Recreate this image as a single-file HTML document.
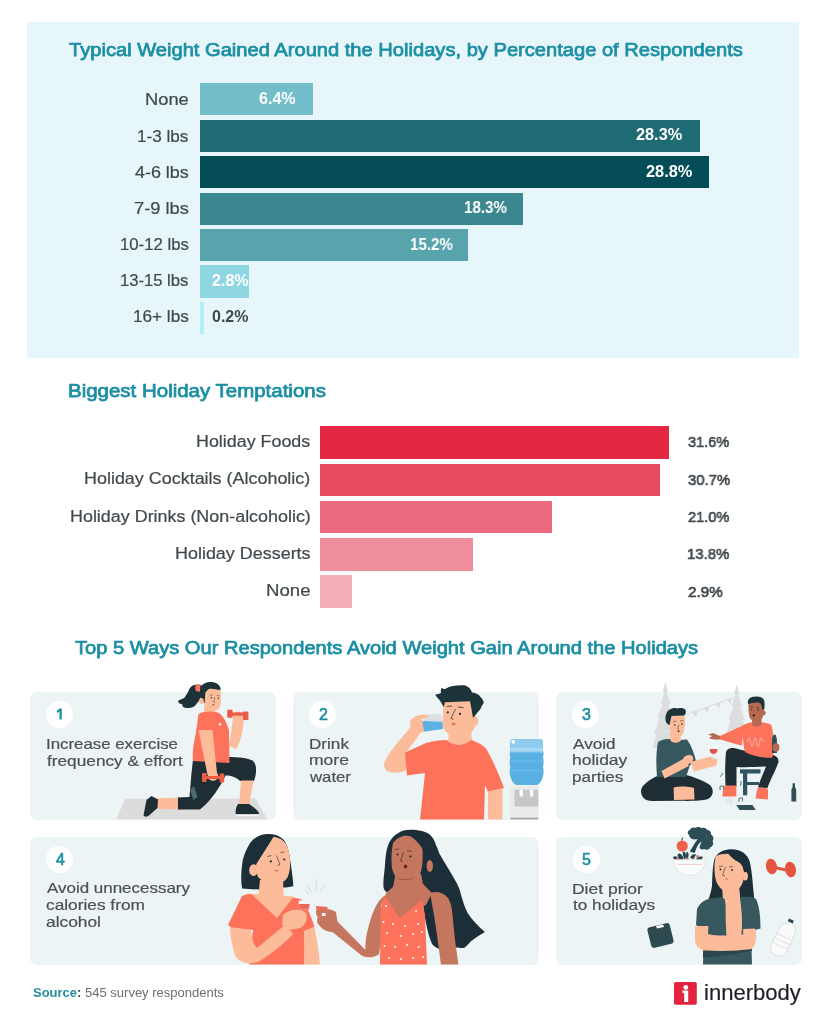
<!DOCTYPE html>
<html><head><meta charset="utf-8">
<style>
*{margin:0;padding:0;box-sizing:border-box}
html,body{width:826px;height:1017px;overflow:hidden;background:#fff}
body{position:relative;font-family:"Liberation Sans",sans-serif;color:#41484c}
.a{position:absolute;white-space:nowrap;line-height:1;will-change:transform}
.panel{position:absolute;left:27px;top:22px;width:772px;height:336px;background:#e7f6fa}
.bar{position:absolute;left:200px;height:32.4px}
.card{position:absolute;background:#edf4f6;border-radius:7px}
.circ{position:absolute;width:27px;height:27px;border-radius:50%;background:#fff}
svg{position:absolute;left:0;top:0}
</style></head><body>
<div class="panel"></div>
<div class="bar" style="top:83px;width:113px;background:#72bfcb"></div>
<div class="bar" style="top:119.5px;width:499.5px;background:#1f6b74"></div>
<div class="bar" style="top:156px;width:508.5px;background:#044d58"></div>
<div class="bar" style="top:192.5px;width:323px;background:#3b878f"></div>
<div class="bar" style="top:229px;width:268.4px;background:#57a4ad"></div>
<div class="bar" style="top:265.3px;width:49.4px;background:#8ed7e2"></div>
<div class="bar" style="top:301.7px;width:3.5px;background:#b0eef9"></div>

<div class="bar" style="left:320px;top:426.2px;width:349.3px;height:32.6px;background:#e42844"></div>
<div class="bar" style="left:320px;top:463.5px;width:339.5px;height:32.6px;background:#e84a62"></div>
<div class="bar" style="left:320px;top:500.8px;width:232px;height:32.6px;background:#ec6b7e"></div>
<div class="bar" style="left:320px;top:538.1px;width:152.5px;height:32.6px;background:#f08d9c"></div>
<div class="bar" style="left:320px;top:575.4px;width:31.6px;height:32.6px;background:#f4aeb8"></div>

<div class="card" style="left:29.5px;top:692px;width:246px;height:127.5px"></div>
<div class="card" style="left:292.5px;top:692px;width:246px;height:127.5px"></div>
<div class="card" style="left:555.5px;top:692px;width:246px;height:127.5px"></div>
<div class="card" style="left:29.5px;top:836.5px;width:509px;height:128px"></div>
<div class="card" style="left:555.5px;top:836.5px;width:246px;height:128px"></div>

<svg width="826" height="1017" viewBox="0 0 826 1017">
<defs>
<clipPath id="r1"><rect x="0" y="600" width="826" height="219.5"/></clipPath>
<clipPath id="r2"><rect x="0" y="820" width="826" height="144.5"/></clipPath>
</defs>
<g clip-path="url(#r1)">
<!-- ===== CARD 1 : lunge woman ===== -->
<path d="M125.4 798.5 L256 798.5 L267.3 819.5 L116 819.5 Z" fill="#dcdcdc"/>
<!-- ponytail -->
<path d="M201 685 C198.5 684 195.5 684.3 193.2 685.3 C191 686.5 189.8 688 188.9 690.1 C187.5 693 186 696 184.1 698 C182 699.3 179.5 699.5 178 701 C178.3 703.5 180.5 704 182.3 704.3 C182 706 183 707.6 185 707.8 C187 708.2 189 707.9 190.7 707.7 C193.5 707 195.5 705.5 196.8 703.4 C198.5 701.5 199.8 700 200.6 698 C202 694 202.5 689 201 685 Z" fill="#1c3439"/>
<!-- neck -->
<path d="M204.5 703 L212 709 L213 714 L204 714 Z" fill="#fcbc99"/>
<!-- face -->
<path d="M205 690 C208 688.5 214 688 220.4 689 C221 694 221 700 220.5 705 C219.5 709 216 711.9 211.3 711.9 C207.5 711.5 205 708 204.5 703 C204.2 698 204.4 693 205 690 Z" fill="#fcbc99"/>
<!-- head hair -->
<path d="M201 686 C203 683.5 206.5 682 210.1 681.9 C214.5 681.8 218.5 683.5 219.8 686.5 C220.6 688 220.7 689.2 220.4 690.1 C217 689.5 212.5 688.5 208.9 688.9 C207 690 206 691.5 205.3 693.1 C205 696.5 204.8 700 204.7 703.4 C203 701 201.5 699 200.6 698 C200.5 693.5 200.3 689.5 201 686 Z" fill="#1c3439"/>
<path d="M195.2 686 C196.5 684.5 199 684.3 200.4 685 L200 691.5 C198.5 692 196.5 691.5 195.5 690.5 Z" fill="#fd725a"/>
<ellipse cx="201.4" cy="701" rx="2.3" ry="3" fill="#fcbc99"/>
<circle cx="211.3" cy="697.7" r="0.75" fill="#1c3439"/><circle cx="218.3" cy="698.3" r="0.75" fill="#1c3439"/>
<path d="M209.8 695.3 L212.5 694.9 M216.8 695.5 L219.5 695.9" stroke="#1c3439" stroke-width="0.5"/>
<path d="M214.8 697 L213.7 702 L215.3 702.5" stroke="#1c3439" stroke-width="0.45" fill="none"/>
<ellipse cx="213.3" cy="704.8" rx="0.9" ry="0.6" fill="#5a2a1c"/>
<!-- raised arm -->
<path d="M229 746 C231 736 232 726 233 717 L243.5 715 C244.5 726 241.5 739 236.5 749 Z" fill="#fcbc99"/>
<ellipse cx="238" cy="716" rx="5.5" ry="4.5" fill="#fcbc99"/>
<!-- top dumbbell -->
<rect x="231" y="712.5" width="13" height="3.2" fill="#ee5c47"/>
<rect x="227.2" y="709.8" width="5.4" height="8" rx="1" fill="#ee5c47"/>
<rect x="243" y="711.6" width="5.4" height="8.4" rx="1" fill="#ee5c47"/>
<!-- pants -->
<path d="M193 760 L228 757 C238 757 248 758 252.5 760.5 C257 764 257 773 254 781 L240 781 C237 777.5 231 775.5 225.5 775.5 C220.5 786 212 800 200 809.5 L177.5 809.5 L177.5 797.5 L189.5 797 C190.5 787 191 775 193 760 Z" fill="#1e2e34"/>
<path d="M190 790 L194 786 L197.5 797 L193.5 800 Z" fill="#4a6a72"/>
<!-- shirt -->
<path d="M198.5 714 C203 711.5 210 711 216 712 C221.5 713 226 720 229 730 L229.5 763 L193 761 C192 752 194 742 196 732 Z" fill="#fd725a"/>
<circle cx="220" cy="724.3" r="1.2" fill="#fff"/>
<!-- down arm -->
<path d="M198.6 730 L212.5 730 L217 773 L207.5 775 Z" fill="#fcbc99"/>
<ellipse cx="213" cy="776" rx="5.2" ry="4.8" fill="#fcbc99"/>
<!-- bottom dumbbell -->
<rect x="205" y="776" width="16" height="3" fill="#ee5c47"/>
<rect x="202" y="773" width="4.6" height="9" rx="1" fill="#ee5c47"/>
<rect x="219.6" y="773.5" width="4.6" height="9" rx="1" fill="#ee5c47"/>
<!-- front shin & shoe -->
<path d="M241 780.5 L253.5 780.5 L249 806 L239 806 Z" fill="#fcbc99"/>
<path d="M238 804 L249 804 C253 807 258 810 259 813 L259 815 L236 815 C235 811 236 807 238 804 Z" fill="#1e2e34"/>
<rect x="236" y="814.2" width="23" height="1.5" fill="#fff"/>
<!-- back shin & shoe -->
<path d="M178 797.6 L178 809.5 L157 808.6 L156 798.6 Z" fill="#fcbc99"/>
<path d="M151.5 796 L158 799.5 L157.5 808 L149.5 815 C147.5 817 144.5 817.5 143.5 815 L146.5 800 Z" fill="#1e2e34"/>

<!-- ===== CARD 2 : drinking man ===== -->
<!-- arm -->
<path d="M384 766 C384 760 390 752 398 742 C404 735 410 728 414 722 L424.5 727 C419 735 412 745 406.5 752 L406.5 770 C400 773.5 390 773.5 386 770.5 Z" fill="#fcbc99"/>
<!-- neck -->
<path d="M449 730 L471 728 L472 744 L448 744 Z" fill="#fcbc99"/>
<!-- shirt -->
<path d="M405 752.6 L426 743 C433 741 440 740 447 740 C451 746 466 746 471 740 C477 742 483 745 486 748.5 C493 760 499 775 504 788 L488 792 L485 785 L484 820 L420 820 L425 773 L407 775.5 Z" fill="#fd725a"/>
<path d="M488 791.5 L502.5 788.5 L502.5 820 L488 820 Z" fill="#fcbc99"/>
<!-- face -->
<path d="M444 702 C452 699 463 699 470 700 C473 707 475 714 476 720 C476 727 473 732 468 734.5 C462 736.5 455 737 451.5 736 C447 733 443.5 730 443 726 C442.5 718 443 710 444 702 Z" fill="#fcbc99"/>
<ellipse cx="475" cy="721" rx="3.3" ry="4.5" fill="#fcbc99"/>
<!-- hair -->
<path d="M435.2 694.5 C437.5 694 439.5 694 441 693 C440.5 690.5 441 688.5 442 687.7 C443 689 444 689.5 446 688.5 C450 686 457 685 464 685.3 C468 686 471 689 472 692.6 C476 693 479 694.5 480.5 697 C482.5 699 484 701.5 483.6 703.2 L481.7 706.1 C481 709 479 711 477.8 712 C476 714.5 474.5 716.5 473 717.8 C472 712 471 706 470 701.3 C462 701.5 452 702 444.9 702.3 L443.9 707.1 C442 704 440.5 701 439 699.4 C437.5 698 436 696 435.2 694.5 Z" fill="#1c3439"/>
<circle cx="447.8" cy="712.4" r="1.1" fill="#1c3439"/><circle cx="459.9" cy="713.9" r="1.1" fill="#1c3439"/>
<path d="M446.8 706.5 L452.2 706 M458 707 L463.5 707.6" stroke="#1c3439" stroke-width="0.8"/>
<path d="M455.5 709 L451 718.5 L453.5 719.5" stroke="#1c3439" stroke-width="0.7" fill="none"/>
<ellipse cx="453.6" cy="724" rx="2" ry="1.5" fill="#e8735e"/>
<!-- glass & hand -->
<path d="M418 726 C418 723 421 721.5 424 721 L442.5 721.5 L443 729 L425 731.5 C421 731.8 418 729.5 418 726 Z" fill="#5db0e2"/>
<path d="M424 721 L426.5 714.5 L441 713.8 L442.5 721.5 Z" fill="#dcdfe1"/>
<path d="M410 722 C412 717 418 715 423 714.5 C427 714.5 429 716 428 717.5 L422 719 L424 731 C420 733.5 415 734.5 411 733 Z" fill="#fcbc99"/>
<!-- water cooler -->
<rect x="510.3" y="786" width="28" height="33.5" rx="1.5" fill="#e9eaea"/>
<rect x="514.5" y="789.8" width="23.8" height="16.8" rx="1.2" fill="#c6c7c8"/>
<rect x="519.6" y="789.8" width="3.3" height="6.6" fill="#fff"/>
<rect x="529.9" y="789.8" width="3.3" height="6.6" fill="#fff"/>
<rect x="510.3" y="817.8" width="28" height="1.9" fill="#9c9d9e"/>
<path d="M510.3 742 C510.3 739.8 511.8 738.9 514 738.9 L539.5 738.9 C541.8 738.9 543 740 543 742 L543 750 C543.8 752 543.8 755 543 757 C543.8 759 543.8 765 543 767 C543.8 769 543.8 774 543 776 C542 781 539 785.1 535.5 785.1 L518 785.1 C514 785.1 511.3 781 510.3 776 C509.5 774 509.5 769 510.3 767 C509.5 765 509.5 759 510.3 757 C509.5 755 509.5 752 510.3 750 Z" fill="#58b0e3"/>
<path d="M510.3 742 C510.3 739.8 511.8 738.9 514 738.9 L539.5 738.9 C541.8 738.9 543 740 543 742 L543 752.4 L510.3 752.4 Z" fill="#8ecbee"/>
<rect x="510.3" y="747.8" width="32.7" height="3.5" fill="#a6d6f2"/>
<rect x="510.3" y="760.5" width="32.7" height="1.3" fill="#6dbbe8"/>
<rect x="510.3" y="770" width="32.7" height="1.3" fill="#6dbbe8"/>
<circle cx="513.2" cy="741.8" r="1.9" fill="#fff"/>
<!-- ===== CARD 3 : party ===== -->
<path d="M665.3 682 L668 692 L666.5 692.5 L670.5 704 L668.5 704.5 L673.5 718 L671.5 718.5 L677 734 L674.5 734.5 L679 748 L652 748 L656.5 734.5 L654 734 L659.5 718.5 L657.5 718 L662.5 704.5 L660.5 704 L664.5 692.5 L662.8 692 Z" fill="#dcdddf"/>
<path d="M736.8 684.5 L739.5 694 L738 694.5 L742 706 L740 706.5 L745 720 L743 720.5 L748.5 738 L725 738 L730.5 720.5 L728.5 720 L733.5 706.5 L731.5 706 L735.5 694.5 L734 694 Z" fill="#dcdddf"/>
<path d="M686.5 714.5 C700 710 718 703 737 696" stroke="#d4d6d7" stroke-width="0.8" fill="none"/>
<path d="M692.5 712.5 L697.5 710.8 L696 717 Z M704 708.5 L709 706.6 L707.5 713 Z M715.5 704 L720.5 702.2 L719 708.5 Z M727 699.7 L732 697.9 L730.5 704 Z" fill="#dadbdc"/>
<!-- left man legs -->
<path d="M657 776 L686 775 C694 777 704 781 710 785 C714 789 714 796 708 799 C702 801 690 801 680 800.8 L652 801 C645 801 641 797 641 791 C641.5 785 648 781 657 776 Z" fill="#1e2e34"/>
<path d="M673.6 787.5 C680 786 688 786.5 694 788 L694.5 799.5 L674 800 Z" fill="#fcbc99"/>
<!-- left man shirt -->
<path d="M658 742 C662 739.5 667 738.5 671 739.5 C674 742.5 678 742.5 681 740 C684 739.5 686 739.3 687 739.6 C691 745 694 753 696 761 L690 765 L686 777 L657 777 C656 765 656 752 658 742 Z" fill="#37585e"/>
<path d="M670 733 L680.5 733 L681 740.5 C678 743.5 673 743.5 670.5 740.5 Z" fill="#fcbc99"/>
<!-- arms -->
<path d="M661.5 771 L664.5 778.5 L689 766 L685 758 Z" fill="#fcbc99"/>
<ellipse cx="688" cy="759.5" rx="5.5" ry="4.2" transform="rotate(-30 688 759.5)" fill="#fcbc99"/>
<path d="M690 762 L710 756.5 L717.5 759.5 L716.5 765.5 L694 771.5 Z" fill="#fcbc99"/>
<!-- face & hair -->
<path d="M669 716 L684.5 715 C685.5 722 685 730 682.5 735 C679.5 737.5 675 737.5 672 735.5 C670 732 669 726 669 716 Z" fill="#fcbc99"/>
<path d="M665.5 720 C665 714 667.5 710 671 709 C673 707.5 676 707.8 678 708.5 C680.5 707.5 684 708 685.5 710 C686.5 712.5 685.5 714.5 684 715.5 L671.5 716 L669.5 725 C667 724 665.8 722.5 665.5 720 Z" fill="#1c3439"/>
<circle cx="666.5" cy="731.2" r="1.1" fill="none" stroke="#f2f2f2" stroke-width="0.7"/>
<circle cx="674.8" cy="725" r="0.8" fill="#1c3439"/><circle cx="682" cy="724" r="0.8" fill="#1c3439"/>
<path d="M673 721.5 L676.5 721.2 M680 720.8 L683.5 720.8" stroke="#1c3439" stroke-width="0.5"/>
<path d="M679 724.5 L677.5 728.5 L679.2 729" stroke="#1c3439" stroke-width="0.45" fill="none"/>
<ellipse cx="678.6" cy="731.2" rx="0.9" ry="1.1" fill="#5a2a1c"/>
<!-- wine glass -->
<path d="M709.3 745.3 L717.8 745.3 L717.3 751 C716.5 755 710.5 755 709.8 751 Z" fill="#f6f6f6"/>
<path d="M709.6 749 L717.5 749 L717.3 751 C716.5 755 710.5 755 709.8 751 Z" fill="#e0574b"/>
<path d="M713.5 754 L713.5 760" stroke="#e4e4e4" stroke-width="0.9"/>
<!-- right man: stool -->
<rect x="740" y="769.3" width="20.5" height="4.2" fill="#2f5660"/>
<rect x="743" y="773" width="4.2" height="22.3" fill="#2f5660"/>
<rect x="743" y="782" width="16" height="3" fill="#2f5660"/>
<!-- pants -->
<path d="M726 752 C727 748.5 731 747.5 735 748.3 C745 751 758 754 770 754.5 C776 755 779 758 778.5 762 C776 770 770 780 767.5 788 L758 787.5 C760 780 764 772 766 766.5 C758 767 745 767.5 736.5 767 L736.5 786.5 L725.5 786.5 C725 775 725 762 726 752 Z" fill="#1e2e34"/>
<path d="M725 785.5 L736.3 785.5 L736.3 796.5 L722.4 796.5 C722.4 792 723.5 788 725 785.5 Z" fill="#fd725a"/>
<path d="M758 787.5 L767.8 788.5 C768.2 792 768 796 767.8 799.6 L755.7 798.5 C756 794 757 790.5 758 787.5 Z" fill="#fd725a"/>
<!-- sweater -->
<path d="M743 725.1 C748 722.5 753 722 757 722 C762 722 768 723 771.4 725.1 C773.5 733 774 745 773.8 753 L772 757.8 C762 758 752 756 745 752 C743 745 742.5 735 743 725.1 Z" fill="#fd725a"/>
<path d="M744 725 L720 736 L720 739.6 L741.8 745.7 Z" fill="#fd725a"/>
<path d="M747.5 742 C748.5 736 749.5 736 750.5 742 C751.5 748 752.5 748 753.5 742 C754.5 736 755.5 736 756.5 742 C757.5 748 758.5 748 759.5 742 C760.5 736 761.5 736 762.5 742" stroke="#fbc2b4" stroke-width="0.8" fill="none"/>
<path d="M720 736 L713 733 L708 734.5 L712 736 L709 738.5 L714 739.5 L720 739.6 Z" fill="#b5694f"/>
<!-- head -->
<path d="M752 718 L761.5 718 L761.5 725 C758 727 755 727 752 725 Z" fill="#b5694f"/>
<path d="M748.4 704 C749 700.5 753 699 757.5 699.5 C761.5 700 764 703 764 708 C764 714 763 719 759.5 721.3 C755.5 722.5 751 721 749.5 717 C748.5 713 748.2 708 748.4 704 Z" fill="#b5694f"/>
<circle cx="763.6" cy="713" r="2.2" fill="#b5694f"/>
<path d="M747.8 703.5 C747.5 699 750.5 696.5 754.5 696.7 C757.5 696 761 696.5 763 698.5 C764.8 700.5 765 704 764.2 709.4 L762.5 710 C762 706 761 703.5 759 702.5 C756 702.5 751.5 702.5 748.5 704 Z" fill="#1c3439"/>
<ellipse cx="753.8" cy="715.3" rx="1.1" ry="1.3" fill="#4a1f14"/>
<circle cx="751.5" cy="709.4" r="0.7" fill="#1c3439"/><circle cx="758.1" cy="710" r="0.7" fill="#1c3439"/>
<path d="M750 707 L753 706.8 M756.5 707.3 L759.5 707.8" stroke="#1c3439" stroke-width="0.5"/>
<!-- bottle in hand -->
<path d="M773.5 734.8 L775.7 734.8 L776.9 739 L776.9 753 L772 753 L772 739 Z" fill="#2f4f55"/>
<ellipse cx="776" cy="747.5" rx="3.4" ry="4.2" fill="#b5694f"/>
<!-- floor bits -->
<path d="M792.6 783.2 L795 783.2 L795 787 L796.2 789.5 L796.2 801.4 L791.4 801.4 L791.4 789.5 L792.6 787 Z" fill="#2f4f55"/>
<path d="M736.3 805 L752.5 805 L755.7 810 L739.5 810 Z" fill="#2f4f55"/>
<g stroke="#2f4f55" stroke-width="0.8" fill="none">
<path d="M720.5 776.5 L723 773 M720.5 776.5 L720 777"/>
<path d="M720 786.5 L720 790 M723.5 785.8 L723.5 789.3 M720 786.5 L723.5 785.8"/>
<path d="M739 798.5 L739 802 M742.5 797.8 L742.5 801.3 M739 798.5 L742.5 797.8"/>
<path d="M741 781 L741 785 L740 785.5"/>
</g>
<g stroke="#cfd2d3" stroke-width="0.7" fill="none">
<path d="M726 798 L727 804 M729 797 L729.5 804 M732 799 L731 804"/>
</g>
</g>

<g clip-path="url(#r2)">
<!-- ===== CARD 4 : toasting ===== -->
<!-- woman 1 hair -->
<path d="M264.9 834.3 C269 833.8 272.5 834 275.9 835.1 C280 836.5 283.5 839 285.4 842.2 C288 847.5 289.5 853.5 290.1 859.5 C291.2 867 292.5 875 293.2 883.1 L293.2 886.2 C289.5 887 286 887.5 282.2 887.8 L258.6 889.4 C253 889.4 247 889.2 242.1 888.6 C241.3 884 241 879 241.3 875.2 C241.5 869.5 242 864.5 242.9 859.5 C244.5 853 247.5 847 250.7 842.2 C254.5 837.8 259.5 835 264.9 834.3 Z" fill="#1c2f38"/>
<path d="M260 880 L283 880 L284 899 L258 899 Z" fill="#fcbc99"/>
<path d="M273.6 836.7 C279 837.5 284 840 286.5 845 C289 850 290.1 856 290.1 862 C290.3 868 289.5 873 287.5 877.5 C284.5 882 279.5 884.6 274.3 884.6 C268.5 884.3 262.5 881.5 257.8 876.8 C256.5 872 256 868 256.2 864.2 C261.5 856 267.5 846.5 273.6 836.7 Z" fill="#fcbc99"/>
<ellipse cx="253.5" cy="870.2" rx="4.3" ry="5.9" fill="#fcbc99"/>
<circle cx="270.8" cy="861.4" r="1.1" fill="#1c2f38"/><circle cx="284.2" cy="859.5" r="1.1" fill="#1c2f38"/>
<path d="M267.5 856.5 L271.5 855.5 M280.5 852.5 L284.5 852" stroke="#1c2f38" stroke-width="0.6"/>
<path d="M276.5 855.5 L280 864.5 L277.5 865.5" stroke="#1c2f38" stroke-width="0.6" fill="none"/>
<path d="M274 870 C275 872 277.5 872 278.5 870 Z" fill="#e8735e"/>
<path d="M247 893.5 L294 896.5 L277 921 Z" fill="#fcbc99"/>
<!-- woman 1 top -->
<path d="M228 925 L242 896 C245 894 249 894 252 894.5 L277 918 L293 897.5 L301 899 C306 905 311 915 314.5 927 L304.5 931 L304.5 965 L249 965 L253 930 L232 928 Z" fill="#fd725a"/>
<path d="M304.5 931 L314.5 927 C317 940 319 952 320 965 L305 965 Z" fill="#fcbc99"/>
<path d="M230 927 L251 930 C252 940 254 945 257 948 L285 925 L293 934 C285 943 270 955 258 962 C248 965.5 238 962 235 955 C232 946 230 936 230 927 Z" fill="#fcbc99"/>
<path d="M283 915 C290 909 300 908 306 913 C308 918 306 925 300 928 L290 930 L282 925 Z" fill="#fcbc99"/>
<!-- glasses -->
<path d="M298.5 900.5 L310 900.5 L309 909.5 L299.5 909.5 Z" fill="#f4f4f4"/>
<path d="M299 904 L309.6 904 L309 909.5 L299.5 909.5 Z" fill="#e86a58"/>
<path d="M308 886 L311 893 M316 879 L316.5 891 M325 884 L320 892 M305 890 L309 894" stroke="#c9cbcc" stroke-width="0.7"/>
<!-- woman 2 hair -->
<path d="M398.3 832.9 C402 830.5 406 829.5 410.9 829.7 C418 829.8 425 831 429.8 834.4 C433 837.5 435 841 436.1 845.5 C437.5 848 438.5 851 439.2 853.3 C444 862 450 871 455 880 C458 885 460 890 461.3 895.8 C463 902 465 908 467.6 913.1 C472 920 478 926 484.9 932 C480 935 475 938 470.7 941.5 C468.5 944 466.5 946 464.4 947.8 C460 948.5 456 947.5 452 946 L446 950 C440 950 436 948 432 944 C428 935 425 920 423 905 L422 884.8 L395 884 C395 889 393.5 892 390 893 C386 893 383.5 890 383.4 886 C383 880 384.5 872 385 865 C385.5 857 386 851 388 845.5 C390.5 839 394 835 398.3 832.9 Z" fill="#1c2f38"/>
<!-- neck/chest/arms -->
<path d="M396 872 L421 874 L423 884 L432 893 L426 905 L400 919 L384 900 L386 893 L393 887 Z" fill="#c5765f"/>
<path d="M430 893 C436 891 443 892 448 898 C451 903 452 908 452.5 915 L455 940 L458.5 965 L441 965 L437 935 L434 915 Z" fill="#c5765f"/>
<path d="M386 895 C378 899 373 910 369 925 C366 935 365 945 365.5 950 L337 921 L330 930 L361 955 C366 958.5 374 958 379 954 L382 935 L381.5 905 Z" fill="#c5765f"/>
<path d="M318 912 C322 908 330 908 336 912 L338 925 L332 932 C326 932 320 928 317 922 Z" fill="#c5765f"/>
<path d="M315.5 902 L328 903 L326.5 917 L317 916.5 Z" fill="#f4f4f4"/>
<path d="M316 906 L327.6 907 L326.5 917 L317 916.5 Z" fill="#e86a58"/>
<path d="M316 911 C320 909.5 325 910 329 912 L330 916 C325 917 320 917 316.5 915.5 Z" fill="#c5765f"/>
<rect x="322" y="913" width="3.5" height="3" fill="#fff"/>
<!-- face -->
<path d="M393 843 C397 837 405 834.5 413 835 C419 837 422 842 422.5 850 C423 860 422.5 870 419 876 C415 880.5 409 882 403 881.5 C397 880 393.5 875 392 868 C391 860 391.5 850 393 843 Z" fill="#c5765f"/>
<path d="M404 831 C412 829.5 422 831 428 836 L428.5 860 C425 852 420 843 411 836.5 L404 835 Z" fill="#1c2f38"/>
<ellipse cx="429.8" cy="866" rx="3.2" ry="6" fill="#c5765f"/>
<circle cx="397.5" cy="854.5" r="1.1" fill="#1c2f38"/><circle cx="410.5" cy="856.5" r="1.1" fill="#1c2f38"/>
<path d="M394.5 849.5 L399 849 M407 850.5 L412 851.5" stroke="#1c2f38" stroke-width="0.6"/>
<path d="M403.5 852 L400.5 861 L403 861.5" stroke="#3a1a10" stroke-width="0.6" fill="none"/>
<ellipse cx="405.5" cy="866.5" rx="1.7" ry="1.9" fill="#5a2a1c"/>
<path d="M398 878.5 C403 880 409 880 414 878" stroke="#8e4a36" stroke-width="0.7" fill="none"/>
<!-- dress -->
<path d="M384 895.5 L399.9 918 L422 900 L425 915 L427 965 L380 965 L380.5 912 Z" fill="#fd725a"/>
<g fill="#fff">
<circle cx="386" cy="906" r="1"/><circle cx="416" cy="911" r="1"/>
<circle cx="383.5" cy="922" r="1"/><circle cx="393" cy="924" r="1"/><circle cx="405" cy="926" r="1"/><circle cx="418" cy="924" r="1"/>
<circle cx="387" cy="933" r="1"/><circle cx="401" cy="936" r="1"/><circle cx="413" cy="934" r="1"/><circle cx="422" cy="932" r="1"/>
<circle cx="384.5" cy="946" r="1"/><circle cx="395" cy="947" r="1"/><circle cx="407" cy="945" r="1"/><circle cx="418.5" cy="947" r="1"/>
<circle cx="389" cy="958" r="1"/><circle cx="401" cy="959" r="1"/><circle cx="413" cy="958" r="1"/><circle cx="423" cy="957" r="1"/>
</g>

<!-- ===== CARD 5 : diet ===== -->
<path d="M689.8 851.5 L695 843 C696 841 697.5 839.5 699 839 L701.5 840.5 C700 842.5 697.5 845.5 696.5 848 L694.6 852.9 Z" fill="#26444b"/>
<path d="M697 840 L703 838.5 L704 840.5 L698.5 842.5 Z" fill="#26444b"/>
<path d="M689 835 C687 833 687.5 830.5 690 830 C690.5 828 693 827 695 828 C697 826.5 700 826.8 701.5 828.3 C703.5 827.2 706.5 828 707 830 C709.5 830 711.5 832 711 834.5 C713.5 836 714.2 839 712.5 841 C714 843 713 846.5 710.5 847 C709.5 849.5 706.5 850.5 704.5 849 C702.5 850 700 849.5 699.5 847.5 L701.5 841 C699 840 696.5 839 695 839.5 C692 839.5 689.5 838 689 835 Z" fill="#2d4e56"/>
<circle cx="682.2" cy="846" r="5.6" fill="#f0604b"/>
<path d="M681.6 840.5 L682.6 837.5" stroke="#1c3439" stroke-width="1"/>
<g fill="#26444b">
<path d="M673 857 C675 855.5 677.5 856 678.5 859 L674 859.5 Z"/>
<path d="M677.5 855 C678 852.5 681 853 682.5 856 L683.5 859.5 L679 859.5 Z"/>
<path d="M682.5 852 C684 851 686 852.5 686 855 L685.5 859.5 L683.5 858 Z"/>
<path d="M686.5 852 C688 851.5 689 853.5 688.5 856 L687.5 859.5 L685.8 857.5 Z"/>
<path d="M690 857.5 C691.5 854.5 694 853.5 696 854.5 L693.5 859.5 Z"/>
<path d="M696 859.5 C697.5 856.5 700.5 856 703 857 L701.5 859.5 Z"/>
</g>
<g fill="#e87462"><circle cx="677.5" cy="859" r="1.3"/><circle cx="687.5" cy="858.8" r="1.4"/><circle cx="697.5" cy="856.5" r="1.4"/></g>
<path d="M673.4 859.8 L706.1 859.8 C705.2 868.5 698.5 875.3 689.5 875.3 C680.5 875.3 674.3 868.5 673.4 859.8 Z" fill="#fbfcfc" stroke="#d3d6d7" stroke-width="0.6"/>
<path d="M677 864.4 L702 864.4" stroke="#f6c4c4" stroke-width="0.9"/>
<!-- dumbbell -->
<ellipse cx="771.5" cy="866.5" rx="5.5" ry="7.8" transform="rotate(-12 771.5 866.5)" fill="#e4553f"/>
<path d="M775 866 L786 868.5 L785.5 871.5 L774.5 869 Z" fill="#e4553f"/>
<ellipse cx="790.5" cy="869.5" rx="5.5" ry="7.8" transform="rotate(-12 790.5 869.5)" fill="#e4553f"/>
<!-- scale -->
<rect x="649" y="925" width="23" height="21" rx="3" transform="rotate(-14 660.5 935.5)" fill="#2d4a50"/>
<path d="M656 926 L663 924.5 L664 927 L657 928.5 Z" fill="#fff"/>
<!-- bottle -->
<path d="M789 919 L793.5 921 L792.5 924.5 C796 927 796 931 794.5 935 L786 953 C784.5 956 780 957 776 955 L772.5 953 C770.5 951 770 948 771.5 945 L780 927 C782 923.5 785.5 922.5 788 923.5 Z" fill="#fafafa" stroke="#c9cdcf" stroke-width="0.6"/>
<path d="M789 918.5 L793.8 920.8 L792.6 923.5 L787.8 921.2 Z" fill="#2d4a50"/>
<path d="M778 934 L791 940 M776 938.5 L789 944.5 M774 943 L787 949" stroke="#d3d6d8" stroke-width="0.7"/>
<!-- woman -->
<path d="M730.6 849.2 C740 849 747 853 749.5 861 C752 870 752.5 882 753.9 895.3 L754.5 906 L705.5 908 C708 901 711 893 712 886 C712.5 875 712.5 866 714.6 858.4 C718 852 724 849.5 730.6 849.2 Z" fill="#1c2f38"/>
<path d="M722 884 L739 884 L740 902 L723 902 Z" fill="#fcbc99"/>
<path d="M697 909 C700 903 704 900 710 898.5 L722 897 L728 902 L741 897 C748 896.5 753 896.5 756 899 C759 905 760.5 915 760.5 928.5 L751 931 L752 965 L703 965 L704 930 L696 925 Z" fill="#37585e"/>
<path d="M703 951 C718 949 738 947 752 944 L752 951 C738 954 718 956 703 958 Z" fill="#2b474d"/>
<path d="M716 856 C722 853.5 730 853 735 855.5 C740 860 743 866 744 872 C744.5 880 742 886 738 889.5 C734 892 729 892.5 725.6 891.6 C720 889 716 884 715 876 C714 868 714.3 861 716 856 Z" fill="#fcbc99"/>
<path d="M726 851 C734 850.5 742 854 746 860 L747.5 872 C744 867 740 862 735.5 860.5 C732 858 729 855 726 851 Z" fill="#1c2f38"/>
<ellipse cx="745.3" cy="876.3" rx="2.6" ry="4.2" fill="#fcbc99"/>
<circle cx="720.5" cy="869.5" r="0.9" fill="#1c2f38"/><circle cx="732" cy="870" r="0.9" fill="#1c2f38"/>
<path d="M719 866.5 L723 866 M729 867 L733 866.5" stroke="#1c2f38" stroke-width="0.6"/>
<path d="M725.5 867 L722.5 875 L725 876" stroke="#1c2f38" stroke-width="0.6" fill="none"/>
<ellipse cx="726.5" cy="879" rx="1.6" ry="0.9" fill="#ee8a76"/>
<!-- arms -->
<path d="M695 926 L708.4 926 L708 934 C715 936 728 936 742 934.5 L754 933.5 C756 938 755.5 945 752 949 C738 951 720 951.5 706.5 950.5 C699 950 695 946 695 940 Z" fill="#fcbc99"/>
<path d="M723.2 887 C727 885 735 886 739.2 890 L741.6 912 C742.5 925 742 936 739.5 944.5 L727.5 944.5 C726 935 725.6 920 725.6 905 Z" fill="#fcbc99"/>
<path d="M743 929 L755 928.5 C757 934 756.5 941 754 946 L744 947 Z" fill="#fcbc99"/>
</g>
</svg>


<div class="circ" style="left:46.2px;top:701px"></div>
<svg width="826" height="1017" viewBox="0 0 826 1017" style="position:absolute;left:0;top:0"><path d="M56.6 710.9 L59.6 708.6 L61.8 708.6 L61.8 719.5 L59.5 719.5 L59.5 711.6 L57.4 712.9 Z" fill="#1c8fa4"/></svg>
<div class="circ" style="left:309.2px;top:701px"></div>
<div class="circ" style="left:572.2px;top:701px"></div>
<div class="circ" style="left:46px;top:846.3px"></div>
<div class="circ" style="left:572.5px;top:846px"></div>

<div class="a" style="left:69.1px;top:40.5px;font-size:18.6px;font-weight:normal;color:#1c8fa4;-webkit-text-stroke:0.75px #1c8fa4;transform:scaleX(1.0817);transform-origin:0 0">Typical Weight Gained Around the Holidays, by Percentage of Respondents</div>
<div class="a" style="left:68.4px;top:382.0px;font-size:18.6px;font-weight:normal;color:#1c8fa4;-webkit-text-stroke:0.75px #1c8fa4;transform:scaleX(1.1009);transform-origin:0 0">Biggest Holiday Temptations</div>
<div class="a" style="left:75.0px;top:639.0px;font-size:18.6px;font-weight:normal;color:#1c8fa4;-webkit-text-stroke:0.75px #1c8fa4;transform:scaleX(1.0811);transform-origin:0 0">Top 5 Ways Our Respondents Avoid Weight Gain Around the Holidays</div>
<div class="a" style="left:145.3px;top:92.4px;font-size:16px;font-weight:normal;color:#41484c;-webkit-text-stroke:0.2px #41484c;transform:scaleX(1.1444);transform-origin:0 0">None</div>
<div class="a" style="left:137.4px;top:128.6px;font-size:16px;font-weight:normal;color:#41484c;-webkit-text-stroke:0.2px #41484c;transform:scaleX(1.0674);transform-origin:0 0">1-3 lbs</div>
<div class="a" style="left:135.0px;top:164.7px;font-size:16px;font-weight:normal;color:#41484c;-webkit-text-stroke:0.2px #41484c;transform:scaleX(1.1191);transform-origin:0 0">4-6 lbs</div>
<div class="a" style="left:133.9px;top:200.9px;font-size:16px;font-weight:normal;color:#41484c;-webkit-text-stroke:0.2px #41484c;transform:scaleX(1.1435);transform-origin:0 0">7-9 lbs</div>
<div class="a" style="left:119.7px;top:237.0px;font-size:16px;font-weight:normal;color:#41484c;-webkit-text-stroke:0.2px #41484c;transform:scaleX(1.0453);transform-origin:0 0">10-12 lbs</div>
<div class="a" style="left:120.2px;top:273.2px;font-size:16px;font-weight:normal;color:#41484c;-webkit-text-stroke:0.2px #41484c;transform:scaleX(1.0375);transform-origin:0 0">13-15 lbs</div>
<div class="a" style="left:132.9px;top:309.4px;font-size:16px;font-weight:normal;color:#41484c;-webkit-text-stroke:0.2px #41484c;transform:scaleX(1.0720);transform-origin:0 0">16+ lbs</div>
<div class="a" style="left:258.8px;top:91.0px;font-size:16px;font-weight:bold;color:#fff;-webkit-text-stroke:0px #fff;transform:scaleX(1.0057);transform-origin:0 0">6.4%</div>
<div class="a" style="left:636.0px;top:127.4px;font-size:16px;font-weight:bold;color:#fff;-webkit-text-stroke:0px #fff;transform:scaleX(1.0182);transform-origin:0 0">28.3%</div>
<div class="a" style="left:646.0px;top:163.8px;font-size:16px;font-weight:bold;color:#fff;-webkit-text-stroke:0px #fff;transform:scaleX(1.0227);transform-origin:0 0">28.8%</div>
<div class="a" style="left:464.4px;top:200.2px;font-size:16px;font-weight:bold;color:#fff;-webkit-text-stroke:0px #fff;transform:scaleX(0.9432);transform-origin:0 0">18.3%</div>
<div class="a" style="left:410.1px;top:236.6px;font-size:16px;font-weight:bold;color:#fff;-webkit-text-stroke:0px #fff;transform:scaleX(0.9432);transform-origin:0 0">15.2%</div>
<div class="a" style="left:211.9px;top:273.0px;font-size:16px;font-weight:bold;color:#fff;-webkit-text-stroke:0px #fff;transform:scaleX(1.0057);transform-origin:0 0">2.8%</div>
<div class="a" style="left:211.9px;top:309.4px;font-size:16px;font-weight:bold;color:#41484c;-webkit-text-stroke:0px #41484c;transform:scaleX(1.0000);transform-origin:0 0">0.2%</div>
<div class="a" style="left:195.5px;top:434.0px;font-size:16px;font-weight:normal;color:#41484c;-webkit-text-stroke:0.2px #41484c;transform:scaleX(1.1168);transform-origin:0 0">Holiday Foods</div>
<div class="a" style="left:84.1px;top:471.3px;font-size:16px;font-weight:normal;color:#41484c;-webkit-text-stroke:0.2px #41484c;transform:scaleX(1.1210);transform-origin:0 0">Holiday Cocktails (Alcoholic)</div>
<div class="a" style="left:69.9px;top:508.6px;font-size:16px;font-weight:normal;color:#41484c;-webkit-text-stroke:0.2px #41484c;transform:scaleX(1.1192);transform-origin:0 0">Holiday Drinks (Non-alcoholic)</div>
<div class="a" style="left:174.9px;top:545.9px;font-size:16px;font-weight:normal;color:#41484c;-webkit-text-stroke:0.2px #41484c;transform:scaleX(1.1210);transform-origin:0 0">Holiday Desserts</div>
<div class="a" style="left:266.3px;top:583.2px;font-size:16px;font-weight:normal;color:#41484c;-webkit-text-stroke:0.2px #41484c;transform:scaleX(1.1639);transform-origin:0 0">None</div>
<div class="a" style="left:688.1px;top:434.1px;font-size:15.3px;font-weight:normal;color:#41484c;-webkit-text-stroke:0.65px #41484c;transform:scaleX(0.9512);transform-origin:0 0">31.6%</div>
<div class="a" style="left:688.1px;top:471.5px;font-size:15.3px;font-weight:normal;color:#41484c;-webkit-text-stroke:0.65px #41484c;transform:scaleX(0.9721);transform-origin:0 0">30.7%</div>
<div class="a" style="left:688.1px;top:508.9px;font-size:15.3px;font-weight:normal;color:#41484c;-webkit-text-stroke:0.65px #41484c;transform:scaleX(0.9535);transform-origin:0 0">21.0%</div>
<div class="a" style="left:687.1px;top:546.3px;font-size:15.3px;font-weight:normal;color:#41484c;-webkit-text-stroke:0.65px #41484c;transform:scaleX(0.9762);transform-origin:0 0">13.8%</div>
<div class="a" style="left:688.1px;top:583.7px;font-size:15.3px;font-weight:normal;color:#41484c;-webkit-text-stroke:0.65px #41484c;transform:scaleX(0.9943);transform-origin:0 0">2.9%</div>
<div class="a" style="left:45.8px;top:735.7px;font-size:15px;font-weight:normal;color:#4a5053;-webkit-text-stroke:0.2px #4a5053;transform:scaleX(1.1224);transform-origin:0 0">Increase exercise</div>
<div class="a" style="left:46.9px;top:752.5px;font-size:15px;font-weight:normal;color:#4a5053;-webkit-text-stroke:0.2px #4a5053;transform:scaleX(1.1492);transform-origin:0 0">frequency &amp; effort</div>
<div class="a" style="left:309.1px;top:735.6px;font-size:15px;font-weight:normal;color:#4a5053;-webkit-text-stroke:0.2px #4a5053;transform:scaleX(1.1412);transform-origin:0 0">Drink</div>
<div class="a" style="left:309.0px;top:752.4px;font-size:15px;font-weight:normal;color:#4a5053;-webkit-text-stroke:0.2px #4a5053;transform:scaleX(1.1688);transform-origin:0 0">more</div>
<div class="a" style="left:310.2px;top:769.2px;font-size:15px;font-weight:normal;color:#4a5053;-webkit-text-stroke:0.2px #4a5053;transform:scaleX(1.1162);transform-origin:0 0">water</div>
<div class="a" style="left:572.8px;top:735.6px;font-size:15px;font-weight:normal;color:#4a5053;-webkit-text-stroke:0.2px #4a5053;transform:scaleX(1.1444);transform-origin:0 0">Avoid</div>
<div class="a" style="left:571.6px;top:752.4px;font-size:15px;font-weight:normal;color:#4a5053;-webkit-text-stroke:0.2px #4a5053;transform:scaleX(1.1630);transform-origin:0 0">holiday</div>
<div class="a" style="left:571.7px;top:769.2px;font-size:15px;font-weight:normal;color:#4a5053;-webkit-text-stroke:0.2px #4a5053;transform:scaleX(1.1386);transform-origin:0 0">parties</div>
<div class="a" style="left:46.8px;top:880.3px;font-size:15px;font-weight:normal;color:#4a5053;-webkit-text-stroke:0.2px #4a5053;transform:scaleX(1.1302);transform-origin:0 0">Avoid unnecessary</div>
<div class="a" style="left:45.6px;top:897.1px;font-size:15px;font-weight:normal;color:#4a5053;-webkit-text-stroke:0.2px #4a5053;transform:scaleX(1.1524);transform-origin:0 0">calories from</div>
<div class="a" style="left:45.6px;top:913.9px;font-size:15px;font-weight:normal;color:#4a5053;-webkit-text-stroke:0.2px #4a5053;transform:scaleX(1.1565);transform-origin:0 0">alcohol</div>
<div class="a" style="left:572.1px;top:880.6px;font-size:15px;font-weight:normal;color:#4a5053;-webkit-text-stroke:0.2px #4a5053;transform:scaleX(1.1650);transform-origin:0 0">Diet prior</div>
<div class="a" style="left:573.3px;top:897.4px;font-size:15px;font-weight:normal;color:#4a5053;-webkit-text-stroke:0.2px #4a5053;transform:scaleX(1.1451);transform-origin:0 0">to holidays</div>
<div class="a" style="left:318.6px;top:706.6px;font-size:16px;font-weight:normal;color:#1c8fa4;-webkit-text-stroke:0.6px #1c8fa4;letter-spacing:0.00px">2</div>
<div class="a" style="left:581.6px;top:706.6px;font-size:16px;font-weight:normal;color:#1c8fa4;-webkit-text-stroke:0.6px #1c8fa4;letter-spacing:0.00px">3</div>
<div class="a" style="left:55.5px;top:851.8px;font-size:16px;font-weight:normal;color:#1c8fa4;-webkit-text-stroke:0.6px #1c8fa4;letter-spacing:0.00px">4</div>
<div class="a" style="left:582.0px;top:851.6px;font-size:16px;font-weight:normal;color:#1c8fa4;-webkit-text-stroke:0.6px #1c8fa4;letter-spacing:0.00px">5</div>
<div class="a" style="left:703.5px;top:982.0px;font-size:22px;font-weight:normal;color:#1e1f26;-webkit-text-stroke:0.2px #1e1f26;transform:scaleX(1.0021);transform-origin:0 0">innerbody</div>

<div class="a" style="left:32.5px;top:986px;font-size:13px;color:#6b6f72"><b style="color:#2a8ca0">Source</b><b style="color:#3a3f42">:</b> 545 survey respondents</div>
<svg width="826" height="1017" viewBox="0 0 826 1017" style="position:absolute;left:0;top:0"><rect x="674" y="982" width="22.8" height="22.7" rx="1.6" fill="#e2243f"/><circle cx="685.8" cy="987.4" r="2.4" fill="#fff"/><path d="M682.2 990.5 L688.2 990.5 L688.2 1002 L684.2 1002 L684.2 993.3 L682.6 992.9 Z" fill="#fff"/></svg>
</body></html>
